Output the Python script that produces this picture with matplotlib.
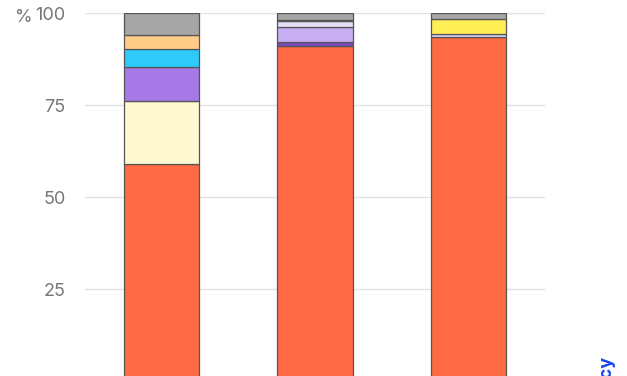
import matplotlib.pyplot as plt

plt.rcParams["font.family"] = ["Inter", "DejaVu Sans"]

# Stacked shares (%) per bar, bottom to top
categories = ["A", "B", "C"]
bar1_values = [59.0, 17.0, 9.3, 4.8, 3.8, 6.1]
bar1_colors = ["#FF6A45", "#FFF8D0", "#A679E6", "#2ECAFA", "#FFCC88", "#A6A6A6"]
bar2_values = [91.0, 1.0, 4.2, 1.5, 0.5, 1.8]
bar2_colors = ["#FF6A45", "#7A4CC2", "#C8AEF2", "#E6DCF6", "#A8E6F2", "#A6A6A6"]
bar3_values = [93.5, 0.8, 4.1, 1.6]
bar3_colors = ["#FF6A45", "#DCD6FA", "#FFEE55", "#A6A6A6"]
y_ticks = [25, 50, 75, 100]

W, H = 627, 376
fig = plt.figure(figsize=(W / 100, H / 100), dpi=100)

# the axis continues below the visible area (0 line is cropped)
ax_bottom = (376 - 381) / H
ax_top = 1 - 13 / H
ax = fig.add_axes([85 / W, ax_bottom, 460 / W, ax_top - ax_bottom])

stacks = [(bar1_values, bar1_colors), (bar2_values, bar2_colors), (bar3_values, bar3_colors)]
for i, (vals, cols) in enumerate(stacks):
    bottom = 0
    for v, c in zip(vals, cols):
        ax.bar(i, v, bottom=bottom, width=0.49, color=c,
               edgecolor="#555555", linewidth=0.9, zorder=3)
        bottom += v

ax.set_xlim(-0.5, 2.5)
ax.set_ylim(0, 100)
ax.set_yticks(y_ticks)
ax.set_yticklabels([str(t) for t in y_ticks], color="#777777", fontsize=13)
for lbl in ax.get_yticklabels():
    lbl.set_verticalalignment("center_baseline")
ax.set_xticks([])
ax.tick_params(axis="y", length=0, pad=14)
ax.grid(axis="y", color="#e2e2e2", linewidth=1, zorder=0)
for s in ax.spines.values():
    s.set_visible(False)

fig.text(15 / W, 1 - 15 / H, "%", color="#777777", fontsize=13,
         ha="left", va="center_baseline")
fig.text(606 / W, 1 - 355 / H, "Efficiency", color="#1646F5", fontsize=13,
         fontweight="bold", rotation=90, ha="center", va="top")

fig.savefig("out.png", dpi=100)
